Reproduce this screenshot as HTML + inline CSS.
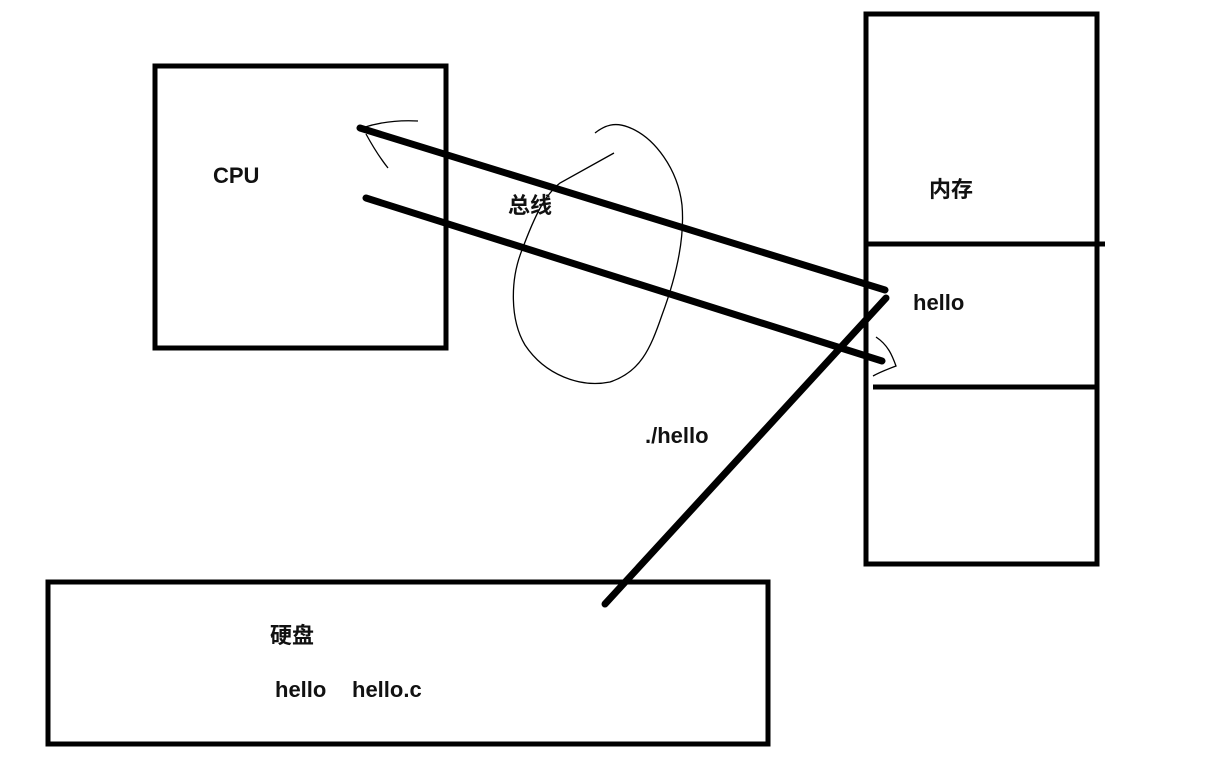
<!DOCTYPE html>
<html><head><meta charset="utf-8"><style>
html,body{margin:0;padding:0;background:#fff;}
svg{display:block}
text{font-family:"Liberation Sans","Noto Sans CJK SC",sans-serif;font-weight:bold;font-size:22px;fill:#111}
</style></head><body>
<svg width="1212" height="760" viewBox="0 0 1212 760">
<rect width="1212" height="760" fill="#fff"/>
<g fill="none" stroke="#000" stroke-width="5">
<rect x="155" y="66" width="291" height="282"/>
<rect x="866" y="14" width="231" height="550"/>
<line x1="866" y1="244" x2="1105" y2="244"/>
<line x1="873" y1="387" x2="1097" y2="387"/>
<rect x="48" y="582" width="720" height="162"/>
</g>
<g stroke="#000" stroke-width="7" stroke-linecap="round">
<line x1="360" y1="128" x2="885" y2="290"/>
<line x1="366" y1="198" x2="882" y2="361"/>
<line x1="886" y1="298" x2="605" y2="604"/>
</g>
<g fill="none" stroke="#000" stroke-width="1.3">
<path d="M595,133 C605,125 615,122 628,127 C655,137 678,170 682,205 C685,240 675,280 662,315 C650,350 640,372 610,382 C580,388 545,375 525,345 C510,320 510,280 522,250 C535,215 545,195 560,183 L614,153"/>
<path d="M362,128 C380,122 400,120 418,121"/>
<path d="M366,134 C372,145 380,158 388,168"/>
<path d="M876,337 C888,345 892,355 896,366 C888,369 880,372 873,376"/>
</g>
<text x="213" y="183">CPU</text>
<text x="508" y="213">总线</text>
<text x="929" y="197">内存</text>
<text x="913" y="310">hello</text>
<text x="645" y="443">./hello</text>
<text x="270" y="643">硬盘</text>
<text x="275" y="697">hello</text>
<text x="352" y="697">hello.c</text>
</svg>
</body></html>
